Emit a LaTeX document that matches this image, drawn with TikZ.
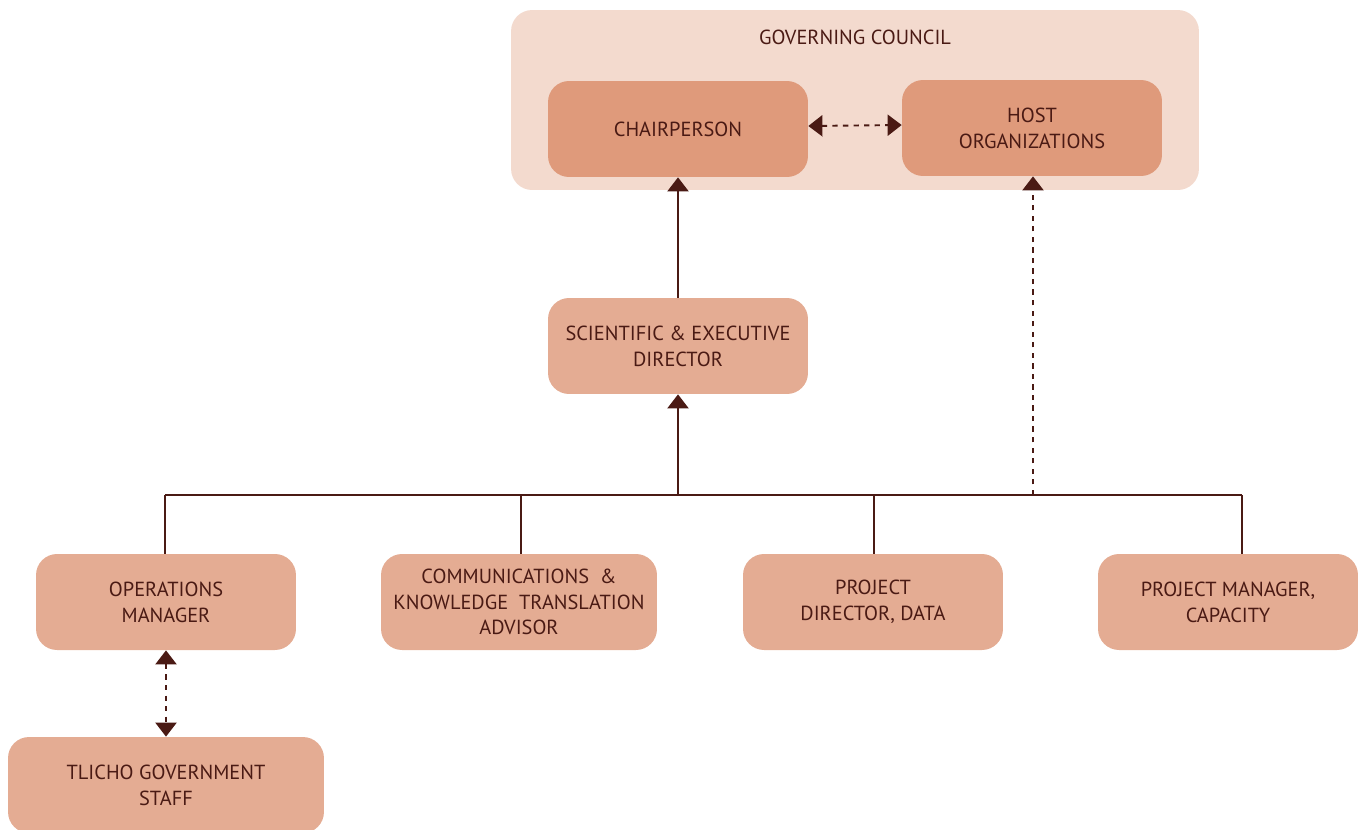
\documentclass[tikz,border=0pt]{standalone}
\usepackage{fontspec}
\setmainfont{PT Sans}
\usepackage{xcolor}
\usetikzlibrary{arrows.meta}

\definecolor{ink}{HTML}{4A1A14}
\definecolor{councilfill}{HTML}{F3DACE}
\definecolor{topfill}{HTML}{DF9A7B}
\definecolor{stafffill}{HTML}{E4AC93}

\begin{document}
\begin{tikzpicture}[x=0.02cm,y=-0.02cm,
	font=\fontsize{11.6}{14.7}\selectfont,
	every node/.style={text=ink, align=center},
	role/.style={rounded corners=0.42cm, fill=stafffill,
		minimum width=5.2cm, minimum height=1.92cm, inner sep=0pt},
	toprole/.style={role, fill=topfill},
	link/.style={draw=ink, line width=1.1pt},
	tip/.style={-{Triangle[width=12pt,length=8pt]}},
	twotip/.style={{Triangle[width=12pt,length=8pt]}-{Triangle[width=12pt,length=8pt]}},
	dotted link/.style={link, dash pattern=on 3pt off 3pt}]
	
	\useasboundingbox (0,0) rectangle (1366,829);
	
	\node[rounded corners=0.42cm, fill=councilfill, minimum width=13.76cm,
		minimum height=3.6cm, inner sep=0pt] (council) at (855,100) {};
	\node (gctitle) at (855,37) {GOVERNING COUNCIL};
	
	\node[toprole] (chair) at (678,129) {CHAIRPERSON};
	\node[toprole] (host) at (1032,128) {HOST\\ORGANIZATIONS};
	
	\node[role] (sed) at (678,346) {SCIENTIFIC \& EXECUTIVE\\DIRECTOR};
	
	\node[role] (ops) at (166,602) {OPERATIONS\\MANAGER};
	\node[role, minimum width=5.52cm] (comm) at (519,602) {COMMUNICATIONS \ \&\\KNOWLEDGE \ TRANSLATION\\ADVISOR};
	\node[role] (pdd) at (873,602) {PROJECT\\DIRECTOR, DATA};
	\node[role] (pmc) at (1228,602) {PROJECT MANAGER,\\CAPACITY};
	
	\node[role, minimum width=6.32cm] (tlicho) at (166,785) {TLICHO GOVERNMENT\\STAFF};
	
	\coordinate (busL) at (165,495);
	\coordinate (busR) at (1242,495);
	\coordinate (busS) at (678,495);
	\coordinate (busH) at (1033,495);
	\coordinate (busC) at (521,495);
	\coordinate (busP) at (874,495);
	\coordinate (pmtop) at (1242,554);
	
	\draw[link] (busL) -- (busR);
	\draw[link] (busL) -- (busL |- ops.north);
	\draw[link] (busC) -- (busC |- comm.north);
	\draw[link] (busP) -- (busP |- pdd.north);
	\draw[link] (busR) -- (pmtop);
	
	\draw[link, tip] (busS) -- (sed.south);
	\draw[link, tip] (sed.north) -- (chair.south);
	\draw[dotted link, tip] (busH) -- (busH |- host.south);
	\draw[dotted link, twotip] (chair.east) ++(0,-3) -- ([yshift=0.06cm]host.west);
	\draw[dotted link, twotip] (ops.south) -- (tlicho.north);
	
\end{tikzpicture}
\end{document}
